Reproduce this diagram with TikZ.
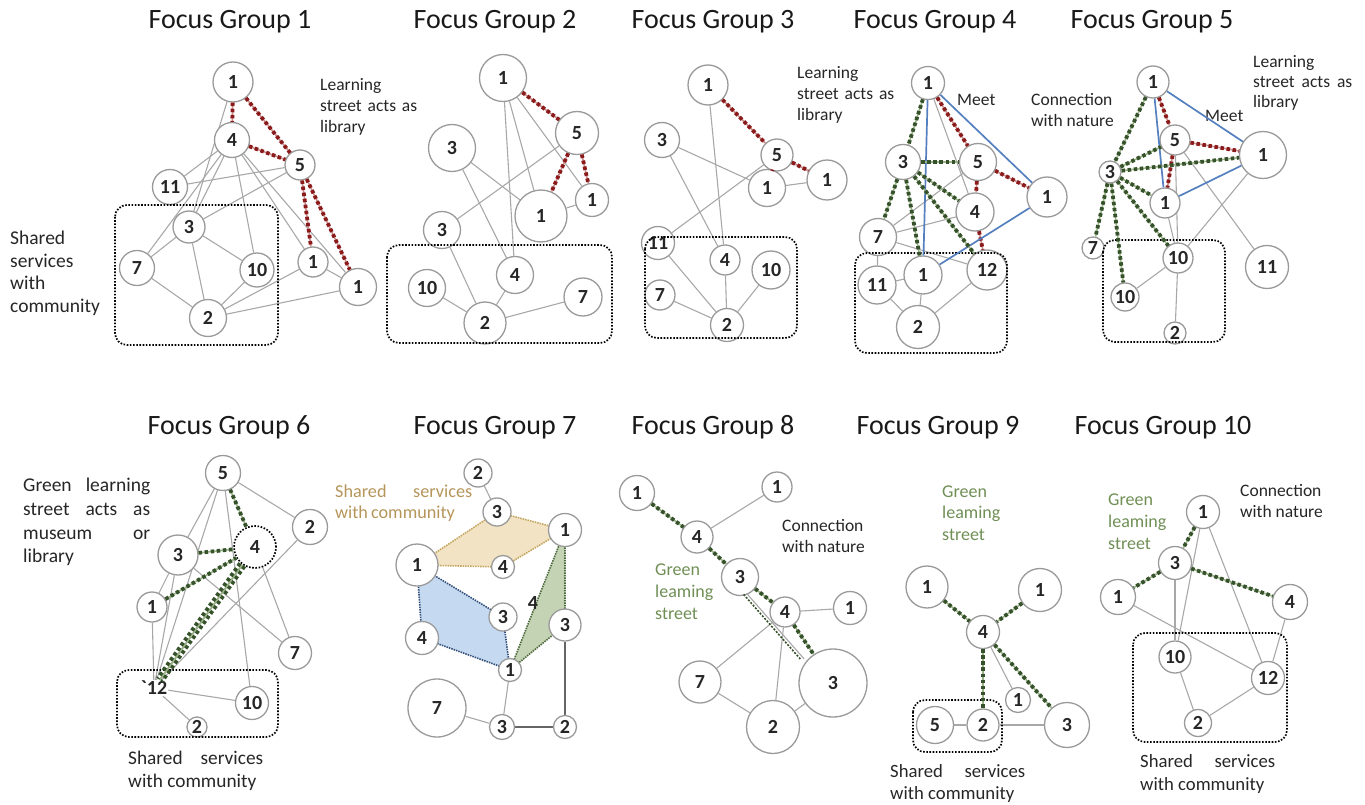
\documentclass[tikz,border=0pt]{standalone}
\usepackage{fontspec}
\setmainfont{Carlito}
\usetikzlibrary{backgrounds}
\definecolor{edgegray}{HTML}{A8A8A8}
\definecolor{circgray}{HTML}{9A9A9A}
\definecolor{reddk}{HTML}{8B1A1A}
\definecolor{redlt}{HTML}{C99090}
\definecolor{greendk}{HTML}{35522A}
\definecolor{greenlt}{HTML}{9CB389}
\definecolor{bluel}{HTML}{5580BF}
\definecolor{txtgreen}{HTML}{6F8F55}
\definecolor{txttan}{HTML}{B5955A}
\definecolor{tanfill}{HTML}{F2E3C4}
\definecolor{tanline}{HTML}{C4A560}
\definecolor{bluefill}{HTML}{C5DAF0}
\definecolor{blueline}{HTML}{34507A}
\definecolor{grnfill}{HTML}{C5D3B5}
\definecolor{grnline}{HTML}{4D6B3D}
\tikzset{
 nd/.style={circle, draw=circgray, line width=1.3pt, fill=white, inner sep=0pt, minimum size=#1pt, font=\fontsize{20}{20}\selectfont\bfseries, text=black!85},
 bare/.style={inner sep=1pt, font=\fontsize{20}{20}\selectfont\bfseries, text=black!85},
 ed/.style={draw=edgegray, line width=1.1pt},
 dked/.style={draw=black!60, line width=1.8pt},
 rdot/.style={preaction={draw=redlt, line width=1.6pt, solid}, draw=reddk, line width=3.8pt, dash pattern=on 3.5pt off 2.6pt},
 gdot/.style={preaction={draw=greenlt, line width=1.6pt, solid}, draw=greendk, line width=3.8pt, dash pattern=on 3.5pt off 2.6pt},
 gthin/.style={draw=greendk, line width=1.6pt, dash pattern=on 2pt off 1.5pt},
 bl/.style={draw=bluel, line width=1.7pt},
 grp/.style={draw=black, line width=1.7pt, dash pattern=on 1.6pt off 1.6pt, rounded corners=12pt},
 ttl/.style={font=\fontsize{28}{28}\selectfont, text height=20pt, text depth=6pt, inner sep=0pt, text=black!90},
 lbl/.style={anchor=west, font=\fontsize{#1}{#1}\selectfont, text height=12pt, text depth=4pt, inner sep=0pt, text=black!85},
 lbl/.default=17.5,
}
\begin{document}
\begin{tikzpicture}[x=1pt,y=-1pt]
\useasboundingbox (0,0) rectangle (1365,805);
% titles
\node[ttl] (t1) at (230,22) {Focus Group 1};
\node[ttl] (t2) at (495,22) {Focus Group 2};
\node[ttl] (t3) at (713,22) {Focus Group 3};
\node[ttl] (t4) at (935,22) {Focus Group 4};
\node[ttl] (t5) at (1152,22) {Focus Group 5};
\node[ttl] (t6) at (229,427) {Focus Group 6};
\node[ttl] (t7) at (495,427) {Focus Group 7};
\node[ttl] (t8) at (713,427) {Focus Group 8};
\node[ttl] (t9) at (938,427) {Focus Group 9};
\node[ttl] (t10) at (1163,427) {Focus Group 10};

% ---------- Group 1
\node[nd=40] (a1) at (233,82) {1};
\node[nd=35] (a4) at (232,140) {4};
\node[nd=30] (a5) at (300,165) {5};
\node[nd=35] (a11) at (170,187) {11};
\node[nd=32] (a3) at (189,227) {3};
\node[nd=35] (a7) at (137,268) {7};
\node[nd=34] (a10) at (257,270) {10};
\node[nd=37] (a2) at (208,318) {2};
\node[nd=30] (a1m) at (313,262) {1};
\node[nd=37] (a1f) at (358,287) {1};
\node[lbl] (la1) at (320,87) {Learning};
\node[lbl] (la2) at (320,108) {\makebox[97pt][s]{street acts as}};
\node[lbl] (la3) at (320,129) {library};
\node[lbl=19.5] (sa1) at (10,240) {Shared};
\node[lbl=19.5] (sa2) at (10,263) {services};
\node[lbl=19.5] (sa3) at (10,285) {with};
\node[lbl=19.5] (sa4) at (10,308) {community};

% ---------- Group 2
\node[nd=47] (b1) at (503,78) {1};
\node[nd=43] (b5) at (577,133) {5};
\node[nd=47] (b3u) at (452,148) {3};
\node[nd=52] (b1m) at (541,216) {1};
\node[nd=33] (b1s) at (592,200) {1};
\node[nd=37] (b3l) at (442,230) {3};
\node[nd=37] (b4) at (515,275) {4};
\node[nd=37] (b10) at (427,288) {10};
\node[nd=42] (b2) at (485,323) {2};
\node[nd=38] (b7) at (583,297) {7};

% ---------- Group 3
\node[nd=40] (c1) at (708,85) {1};
\node[nd=35] (c3) at (662,140) {3};
\node[nd=32] (c5) at (777,155) {5};
\node[nd=37] (c1m) at (767,188) {1};
\node[nd=40] (c1r) at (827,180) {1};
\node[nd=33] (c11) at (658,243) {11};
\node[nd=30] (c4) at (725,260) {4};
\node[nd=38] (c10) at (771,270) {10};
\node[nd=30] (c7) at (660,295) {7};
\node[nd=33] (c2) at (727,325) {2};
\node[lbl] (lc1) at (797,75) {Learning};
\node[lbl] (lc2) at (797,96) {\makebox[97pt][s]{street acts as}};
\node[lbl] (lc3) at (797,117) {library};

% ---------- Group 4
\node[nd=33] (d1) at (928,83) {1};
\node[nd=35] (d3) at (903,162) {3};
\node[nd=37] (d5) at (978,162) {5};
\node[nd=40] (d1r) at (1047,197) {1};
\node[nd=38] (d4) at (975,212) {4};
\node[nd=37] (d7) at (878,237) {7};
\node[nd=38] (d1b) at (923,275) {1};
\node[nd=40] (d12) at (987,270) {12};
\node[nd=38] (d11) at (877,285) {11};
\node[nd=43] (d2) at (918,327) {2};
\node[lbl] (md) at (957,102) {Meet};
\node[lbl] (cd1) at (1031,102) {Connection};
\node[lbl] (cd2) at (1031,123) {with nature};

% ---------- Group 5
\node[nd=32] (e1) at (1153,82) {1};
\node[nd=30] (e5) at (1175,140) {5};
\node[nd=47] (e1r) at (1263,155) {1};
\node[nd=22] (e3) at (1110,172) {3};
\node[nd=30] (e1m) at (1165,203) {1};
\node[nd=22] (e7) at (1093,248) {7};
\node[nd=30] (e10) at (1178,258) {10};
\node[nd=43] (e11) at (1267,267) {11};
\node[nd=28] (e10l) at (1125,297) {10};
\node[nd=22] (e2) at (1175,333) {2};
\node[lbl] (me) at (1205,118) {Meet};
\node[lbl] (le1) at (1253,64) {Learning};
\node[lbl] (le2) at (1253,84) {\makebox[99pt][s]{street acts as}};
\node[lbl] (le3) at (1253,104) {library};

% ---------- Group 6
\node[nd=35] (f5) at (223,473) {5};
\node[nd=35] (f2r) at (310,527) {2};
\node[nd=42, draw=black, line width=1.7pt, dash pattern=on 1.6pt off 1.6pt] (f4) at (255,547) {4};
\node[nd=40] (f3) at (178,555) {3};
\node[nd=30] (f1) at (152,607) {1};
\node[nd=33] (f7) at (295,653) {7};
\node[bare] (f12) at (154,688) {\textasciigrave12};
\node[nd=33] (f10) at (252,703) {10};
\node[nd=20] (f2s) at (197,727) {2};
\node[lbl=19.5] (lf1) at (23,487) {\makebox[127pt][s]{Green learning}};
\node[lbl=19.5] (lf2) at (23,511) {\makebox[127pt][s]{street acts as}};
\node[lbl=19.5] (lf3) at (23,535) {\makebox[127pt][s]{museum or}};
\node[lbl=19.5] (lf4) at (23,558) {library};
\node[lbl=19.3] (sf1) at (128,760) {\makebox[135pt][s]{Shared services}};
\node[lbl=19.3] (sf2) at (128,783) {with community};

% ---------- Group 7
\node[nd=28] (g2t) at (478,473) {2};
\node[nd=28] (g3t) at (497,512) {3};
\node[nd=33] (g1r) at (565,530) {1};
\node[nd=42] (g1l) at (417,565) {1};
\node[nd=23] (g4m) at (503,567) {4};
\node[bare] (g4s) at (533,603) {4};
\node[nd=28] (g3m) at (503,617) {3};
\node[nd=32] (g3r) at (565,625) {3};
\node[nd=33] (g4l) at (422,638) {4};
\node[nd=23] (g1b) at (510,670) {1};
\node[nd=58] (g7) at (437,708) {7};
\node[nd=25] (g3b) at (502,727) {3};
\node[nd=23] (g2b) at (565,727) {2};
\node[lbl=18.2, text=txttan] (lg1) at (335,493) {\makebox[137pt][s]{Shared services}};
\node[lbl=18.2, text=txttan] (lg2) at (335,514) {with\,community};

% ---------- Group 8
\node[nd=35] (h1a) at (637,493) {1};
\node[nd=30] (h1b) at (777,487) {1};
\node[nd=32] (h4) at (697,537) {4};
\node[nd=37] (h3) at (740,577) {3};
\node[nd=30] (h4b) at (785,612) {4};
\node[nd=33] (h1r) at (850,608) {1};
\node[nd=42] (h7) at (700,682) {7};
\node[nd=68] (h3b) at (833,683) {3};
\node[nd=53] (h2) at (773,727) {2};
\node[lbl] (ch1) at (782,527) {Connection};
\node[lbl] (ch2) at (782,548) {with nature};
\node[lbl=18, text=txtgreen] (gh1) at (655,571) {Green};
\node[lbl=18, text=txtgreen] (gh2) at (655,593) {leaming};
\node[lbl=18, text=txtgreen] (gh3) at (655,615) {street};

% ---------- Group 9
\node[nd=42] (i1l) at (927,587) {1};
\node[nd=43] (i1r) at (1040,590) {1};
\node[nd=33] (i4) at (983,632) {4};
\node[nd=25] (i1s) at (1018,700) {1};
\node[nd=37] (i5) at (935,725) {5};
\node[nd=32] (i2) at (983,725) {2};
\node[nd=45] (i3) at (1067,725) {3};
\node[lbl=18, text=txtgreen] (gi1) at (942,493) {Green};
\node[lbl=18, text=txtgreen] (gi2) at (942,514) {leaming};
\node[lbl=18, text=txtgreen] (gi3) at (942,536) {street};
\node[lbl=18.7] (si1) at (890,773) {\makebox[135pt][s]{Shared services}};
\node[lbl=18.7] (si2) at (890,795) {with community};

% ---------- Group 10
\node[nd=33] (j1) at (1203,512) {1};
\node[nd=33] (j3) at (1175,563) {3};
\node[nd=35] (j1l) at (1118,597) {1};
\node[nd=35] (j4) at (1290,602) {4};
\node[nd=32] (j10) at (1175,657) {10};
\node[nd=33] (j12) at (1268,678) {12};
\node[nd=27] (j2) at (1198,723) {2};
\node[lbl] (cj1) at (1240,492) {Connection};
\node[lbl] (cj2) at (1240,513) {with nature};
\node[lbl=18, text=txtgreen] (gj1) at (1108,501) {Green};
\node[lbl=18, text=txtgreen] (gj2) at (1108,523) {leaming};
\node[lbl=18, text=txtgreen] (gj3) at (1108,545) {street};
\node[lbl=18.7] (sj1) at (1140,763) {\makebox[135pt][s]{Shared services}};
\node[lbl=18.7] (sj2) at (1140,786) {with community};

% ---------- dotted group boxes
\draw[grp] (115,205) rectangle (278,345);
\draw[grp] (387,245) rectangle (612,343);
\draw[grp] (645,237) rectangle (797,338);
\draw[grp] (855,253) rectangle (1007,353);
\draw[grp] (1103,240) rectangle (1225,342);
\draw[grp] (117,670) rectangle (278,737);
\draw[grp] (913,700) rectangle (1002,752);
\draw[grp] (1133,633) rectangle (1287,742);

\begin{pgfonlayer}{background}
% group 7 areas
\fill[tanfill] (g1l.center) -- (g3t.center) -- (g1r.center) -- (g4m.center) -- cycle;
\draw[tanline, line width=1.6pt, dash pattern=on 1.5pt off 1pt] (g1l.center) -- (g3t.center) -- (g1r.center) -- (g4m.center) -- cycle;
\fill[bluefill] (g1l.center) -- (g3m.center) -- (g1b.center) -- (g4l.center) -- cycle;
\draw[blueline, line width=1.6pt, dash pattern=on 1.5pt off 1pt] (g1l.center) -- (g3m.center) -- (g1b.center) -- (g4l.center) -- cycle;
\fill[grnfill] (g1r.center) -- (g1b.center) -- (g3r.center) -- cycle;
\draw[grnline, line width=1.6pt, dash pattern=on 1.5pt off 1pt] (g1r.center) -- (g1b.center) -- (g3r.center) -- cycle;
% plain edges
\foreach \p/\q in {a1/a3,a4/a11,a4/a7,a4/a3,a4/a10,a4/a1m,a4/a1f,a5/a11,a5/a3,a3/a7,a3/a2,a3/a10,a7/a2,a10/a2,a2/a1m,a2/a1f,a1m/a1f,
 b1/b4,b1/b1m,b1/b1s,b3u/b1m,b3u/b4,b5/b3l,b3l/b2,b4/b2,b10/b2,b2/b7,b1m/b1s,
 c1/c4,c3/c1m,c3/c4,c5/c11,c1m/c1r,c11/c2,c7/c2,c4/c2,c10/c2,
 d1/d4,d5/d7,d7/d4,d7/d12,d7/d11,d11/d1b,d11/d2,d1b/d2,d2/d12,
 e5/e10,e5/e11,e1r/e10,e1m/e10,e10/e10l,e10/e2,
 f5/f3,f5/f12,f5/f10,f5/f2r,f3/f1,f3/f12,f3/f7,f1/f12,f2r/f12,f4/f7,f12/f10,f12/f2s,
 g2t/g3t,g1b/g3b,g7/g3b,
 h4/h1b,h4b/h1r,h4b/h7,h4b/h2,h7/h2,h2/h3b,
 i4/i1s,i5/i2,i2/i3,i4/i2,
 j1/j10,j1/j12,j3/j10,j1l/j12,j4/j12,j10/j2,j2/j12}
 \draw[ed] (\p) -- (\q);
\draw[dked] (d3) -- (d5);
\draw[dked] (g3b) -- (g2b);
\draw[dked] (g2b) -- (g3r);
\end{pgfonlayer}

% red dotted
\foreach \p/\q in {a1/a4,a1/a5,a4/a5,a5/a1m,a5/a1f,b1/b5,b5/b1m,b5/b1s,c1/c5,c5/c1m,c5/c1r,d1/d5,d5/d1r,d5/d4,d4/d12,e1/e5,e5/e1r,e5/e1m}
 \draw[rdot] (\p) -- (\q);
% blue
\foreach \p/\q in {d1/d1b,d1/d1r,d1r/d1b,e1/e1m,e1/e1r,e1m/e1r}
 \draw[bl] (\p) -- (\q);
% green dotted
\foreach \p/\q in {d1/d3,d3/d5,d3/d7,d3/d1b,d3/d4,d3/d12,e1/e3,e3/e5,e3/e1r,e3/e1m,e3/e10,e3/e7,e3/e10l,
 f5/f4,f3/f4,f1/f4,h1a/h4,h4/h3,h3/h4b,h4b/h3b,i1l/i4,i1r/i4,i4/i3,i4/i2,j1/j3,j3/j1l,j3/j4}
 \draw[gdot] (\p) -- (\q);
\draw[gdot, transform canvas={shift={(2.2,1.5)}}] (f4) -- (f12);
\draw[gdot, transform canvas={shift={(-2.2,-1.5)}}] (f4) -- (f12);
\draw[ed, transform canvas={shift={(-6,2)}}] (h3) -- (h3b);
\draw[gthin, transform canvas={shift={(-9,3)}}] (h3) -- (h3b);
\end{tikzpicture}
\end{document}
